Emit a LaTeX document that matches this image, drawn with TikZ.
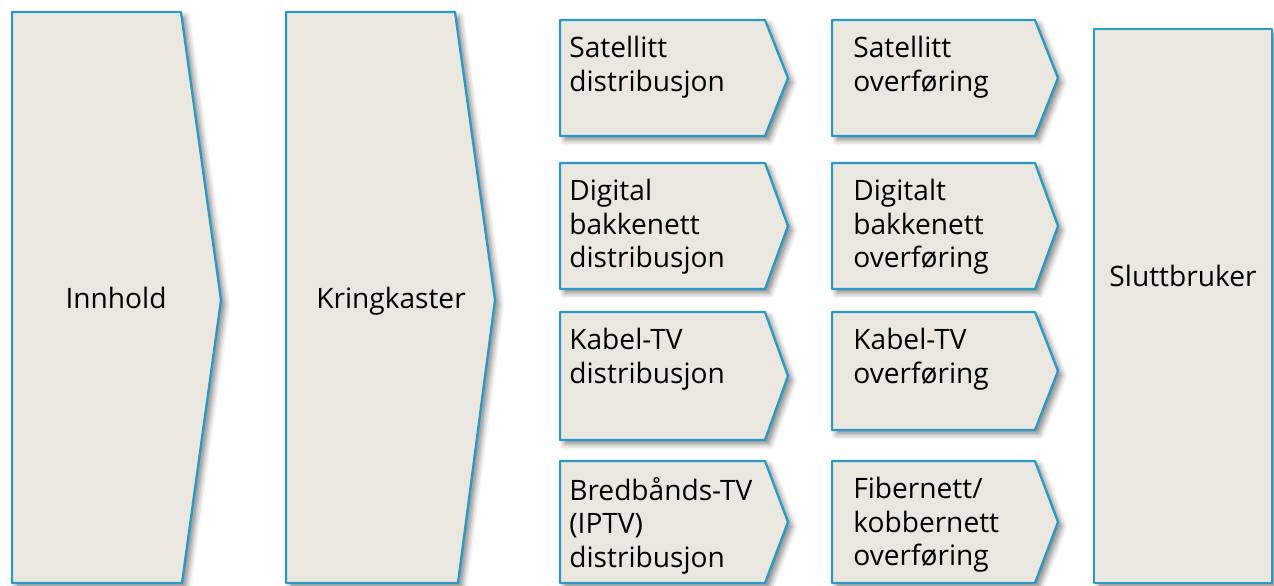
\documentclass[tikz,border=0pt]{standalone}
\usepackage{fontspec}
\setmainfont{Open Sans}
\usetikzlibrary{shadows.blur}
\definecolor{boxfill}{HTML}{E9E7DF}
\definecolor{boxline}{HTML}{2A9AC4}
\begin{document}
\begin{tikzpicture}[x=0.02cm,y=-0.02cm,
    box/.style={draw=boxline,fill=boxfill,line width=1.3pt,line join=round,
        blur shadow={shadow xshift=2.5pt,shadow yshift=-2.5pt,shadow blur radius=3pt,shadow opacity=45}},
    txt/.style={font=\fontsize{16}{19}\selectfont,align=left,anchor=north west,inner sep=0pt},
    big/.style={font=\fontsize{16}{19}\selectfont,anchor=base,inner sep=0pt}]

    \useasboundingbox (0,0) rectangle (1274,585);

    % big blocks
    \draw[box] (12,12) -- (181,12) -- (221,300) -- (182,583) -- (12,583) -- cycle;
    \draw[box] (286,12) -- (455,12) -- (495,300) -- (458,583) -- (286,583) -- cycle;
    \draw[box] (1094,29) rectangle (1272,583);

    % distribution and transfer rows
    \foreach \t/\b/\m in {20/136/78, 163/289/226, 312/440/376, 461/583/522}
        \draw[box] (560,\t) -- (765,\t) -- (788,\m) -- (765,\b) -- (560,\b) -- cycle;
    \foreach \t/\b/\m in {20/136/78, 163/289/226, 312/430/371, 461/583/522}
        \draw[box] (832,\t) -- (1035,\t) -- (1058,\m) -- (1035,\b) -- (832,\b) -- cycle;

    \node[big] (inh) at (116,308) {Innhold};
    \node[big] (kri) at (391,308) {Kringkaster};
    \node[big] (slu) at (1183,286) {Sluttbruker};

    \node[txt] (sd) at (569,36) {Satellitt\\distribusjon};
    \node[txt] (dd) at (569,179) {Digital\\bakkenett\\distribusjon};
    \node[txt] (kd) at (569,328) {Kabel-TV\\distribusjon};
    \node[txt] (bd) at (569,477) {Bredbånds-TV\\(IPTV)\\distribusjon};

    \node[txt] (so) at (853,36) {Satellitt\\overføring};
    \node[txt] (do) at (853,179) {Digitalt\\bakkenett\\overføring};
    \node[txt] (ko) at (853,328) {Kabel-TV\\overføring};
    \node[txt] (fo) at (853,477) {Fibernett/\\kobbernett\\overføring};
\end{tikzpicture}
\end{document}
